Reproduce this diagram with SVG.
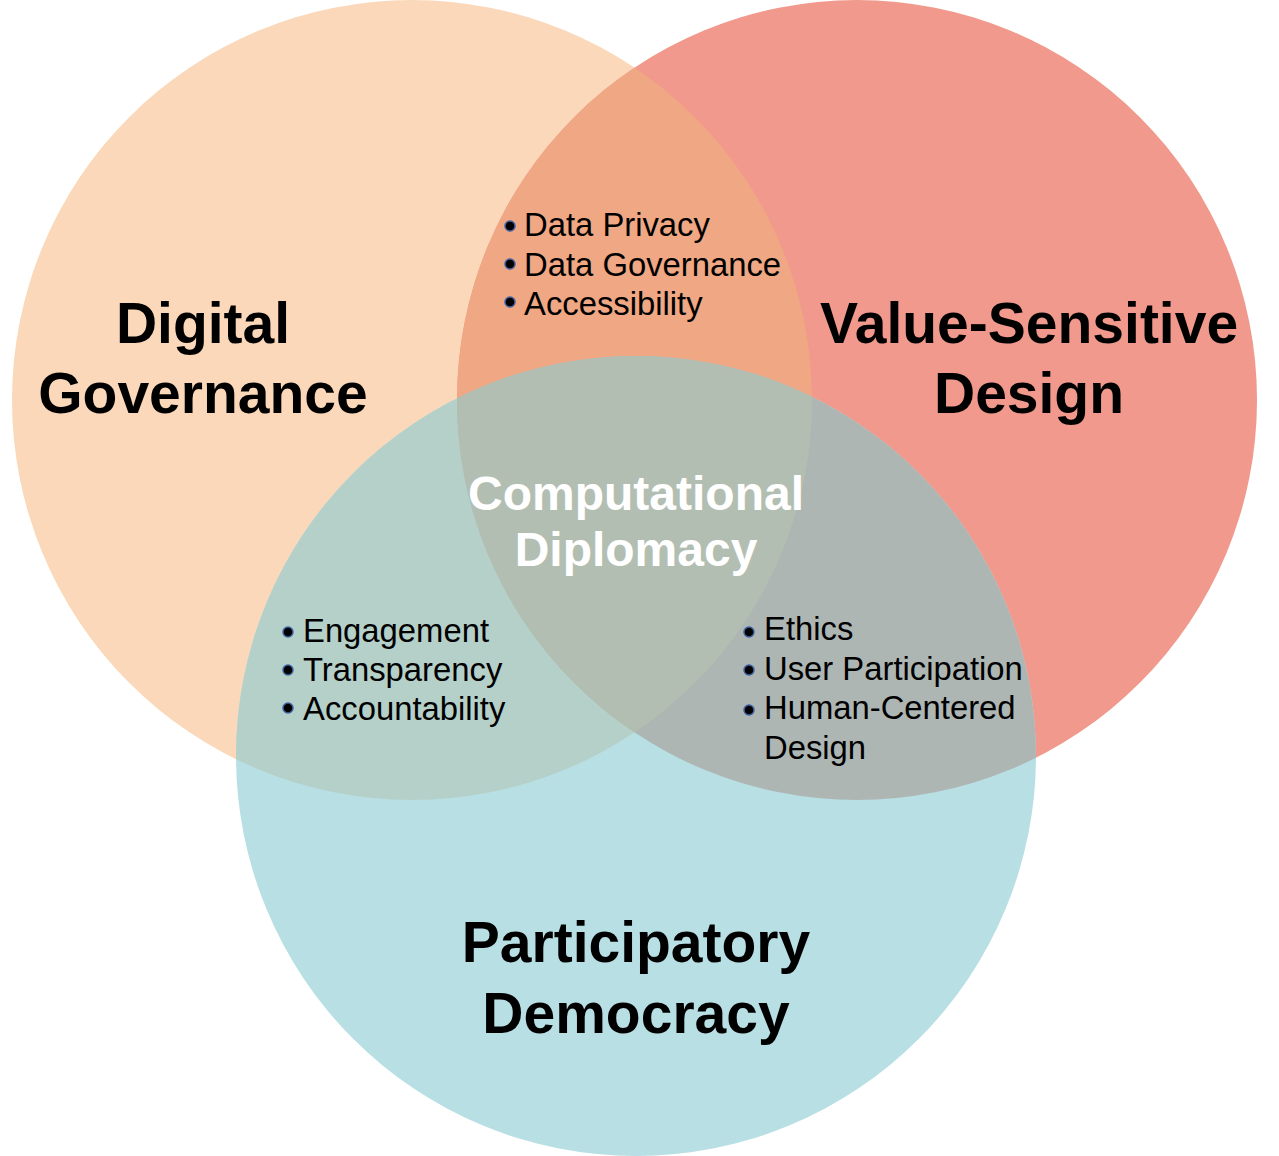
<svg xmlns="http://www.w3.org/2000/svg" width="1279" height="1156" viewBox="0 0 1279 1156">
<defs>
<style>
.big{font-family:"Liberation Sans",Arial,sans-serif;font-weight:bold;font-size:57px;fill:#000;text-anchor:middle}
.ctr{font-family:"Liberation Sans",Arial,sans-serif;font-weight:bold;font-size:48px;fill:#fff;text-anchor:middle}
.item{font-family:"Liberation Sans",Arial,sans-serif;font-size:32.8px;fill:#000}
.dot{fill:#000;stroke:#3d5fa0;stroke-width:1.5}
</style>
<clipPath id="cL"><circle cx="412" cy="400" r="400"/></clipPath>
<clipPath id="cR"><circle cx="857" cy="400" r="400"/></clipPath>
</defs>
<rect width="1279" height="1156" fill="#fff"/>
<g id="circles">
<circle id="digital-governance-circle" cx="412" cy="400" r="400" fill="#FAD8B9"/>
<circle id="value-sensitive-circle" cx="857" cy="400" r="400" fill="#F0998C"/>
<circle id="participatory-circle" cx="636" cy="756" r="400" fill="#B8DFE4"/>
<circle cx="857" cy="400" r="400" fill="#F0A783" clip-path="url(#cL)"/>
<circle cx="636" cy="756" r="400" fill="#B5D0C8" clip-path="url(#cL)"/>
<circle cx="636" cy="756" r="400" fill="#AEB6B4" clip-path="url(#cR)"/>
<g clip-path="url(#cL)"><circle cx="636" cy="756" r="400" fill="#B3BEB2" clip-path="url(#cR)"/></g>
</g>
<g id="labels">
<g id="digital-governance"><text class="big" x="203" y="343">Digital</text><text class="big" x="203" y="413">Governance</text></g>
<g id="value-sensitive-design"><text class="big" x="1029" y="343">Value-Sensitive</text><text class="big" x="1029" y="413">Design</text></g>
<g id="participatory-democracy"><text class="big" x="636" y="962">Participatory</text><text class="big" x="636" y="1033">Democracy</text></g>
<g id="computational-diplomacy"><text class="ctr" x="636" y="510">Computational</text><text class="ctr" x="636" y="566">Diplomacy</text></g>
</g>
<g id="top-list">
<circle class="dot" cx="510" cy="226" r="5"/><text class="item" x="524" y="236">Data Privacy</text>
<circle class="dot" cx="510" cy="264" r="5"/><text class="item" x="524" y="276">Data Governance</text>
<circle class="dot" cx="510" cy="302" r="5"/><text class="item" x="524" y="315">Accessibility</text>
</g>
<g id="left-list">
<circle class="dot" cx="288" cy="632" r="5"/><text class="item" x="303" y="642">Engagement</text>
<circle class="dot" cx="288" cy="670" r="5"/><text class="item" x="303" y="681">Transparency</text>
<circle class="dot" cx="288" cy="708" r="5"/><text class="item" x="303" y="720">Accountability</text>
</g>
<g id="right-list">
<circle class="dot" cx="749" cy="632" r="5"/><text class="item" x="764" y="640">Ethics</text>
<circle class="dot" cx="749" cy="670" r="5"/><text class="item" x="764" y="680">User Participation</text>
<circle class="dot" cx="749" cy="710" r="5"/><text class="item" x="764" y="719">Human-Centered</text>
<text class="item" x="764" y="759">Design</text>
</g>
</svg>
